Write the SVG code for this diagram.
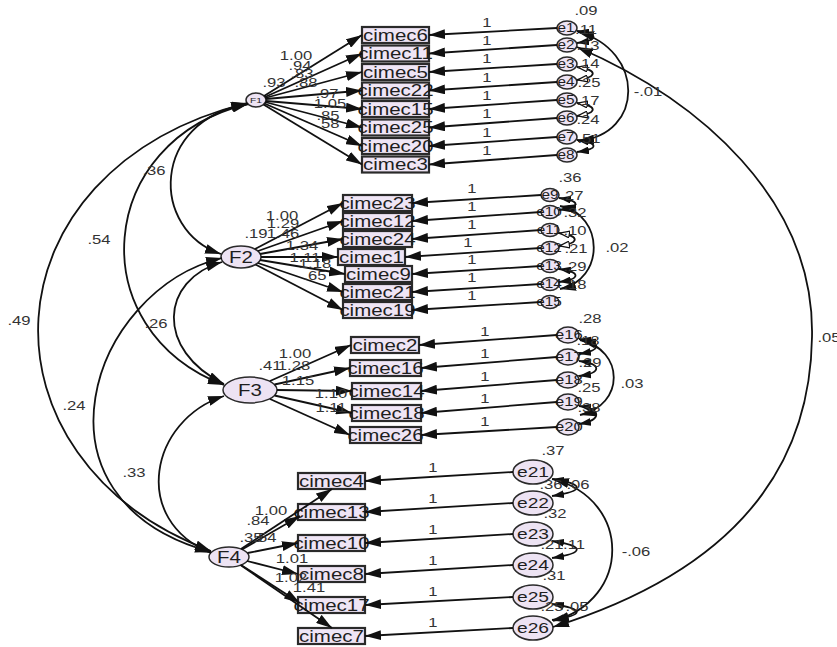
<svg xmlns="http://www.w3.org/2000/svg" width="837" height="647" viewBox="0 0 837 647">
<style>
.ln{fill:none;stroke:#111;stroke-width:1.8}
.bx{fill:#efe5f5;stroke:#2a2a2a;stroke-width:2.2}
.el{fill:#ede3f3;stroke:#2a2a2a;stroke-width:1.5}
text{font-family:"Liberation Sans",Arial,sans-serif;fill:#1e1e1e;text-anchor:middle;transform-box:fill-box;transform-origin:center;transform:scale(1.28,1)}
.n{font-size:13px;fill:#333}
.b{font-size:16px}
.e{font-size:12px}
.f{font-size:16px}
</style>
<defs>
<marker id="ah" viewBox="0 0 16 10" refX="16" refY="5" markerWidth="16" markerHeight="10" markerUnits="userSpaceOnUse" orient="auto-start-reverse"><path d="M0,0 L16,5 L0,10 z" fill="#111"/></marker>
<marker id="as" viewBox="0 0 12 8" refX="12" refY="4" markerWidth="12" markerHeight="8" markerUnits="userSpaceOnUse" orient="auto-start-reverse"><path d="M0,0 L12,4 L0,8 z" fill="#111"/></marker>
<marker id="ao" viewBox="0 0 11 8" refX="11" refY="4" markerWidth="11" markerHeight="8" markerUnits="userSpaceOnUse" orient="auto-start-reverse"><path d="M0.6,0.6 L10.4,4 L0.6,7.4 z" fill="#fff" stroke="#111" stroke-width="1.2"/></marker>
</defs>
<rect width="837" height="647" fill="#fff"/>

<!-- latent factors -->
<g id="F1"><ellipse class="el" cx="256" cy="100" rx="10" ry="7"/><text x="256" y="103" style="font-size:8px">F1</text></g>
<g id="F2"><ellipse class="el" cx="241" cy="257" rx="20" ry="11"/><text class="f" x="241" y="263">F2</text></g>
<g id="F3"><ellipse class="el" cx="250" cy="390" rx="27" ry="13"/><text class="f" x="250" y="396">F3</text></g>
<g id="F4"><ellipse class="el" cx="229" cy="557" rx="20" ry="10"/><text class="f" x="229" y="563">F4</text></g>

<!-- observed items, factor 1 -->
<g id="cimec6"><rect class="bx" x="362" y="27" width="67" height="16"/><text class="b" x="395.5" y="40.7">cimec6</text></g>
<g id="cimec11"><rect class="bx" x="362" y="45.5" width="67" height="16"/><text class="b" x="395.5" y="59.2">cimec11</text></g>
<g id="cimec5"><rect class="bx" x="362" y="64" width="67" height="16"/><text class="b" x="395.5" y="77.7">cimec5</text></g>
<g id="cimec22"><rect class="bx" x="362" y="82.5" width="67" height="16"/><text class="b" x="395.5" y="96.2">cimec22</text></g>
<g id="cimec15"><rect class="bx" x="362" y="101" width="67" height="16"/><text class="b" x="395.5" y="114.7">cimec15</text></g>
<g id="cimec25"><rect class="bx" x="362" y="119.5" width="67" height="16"/><text class="b" x="395.5" y="133.2">cimec25</text></g>
<g id="cimec20"><rect class="bx" x="362" y="138" width="67" height="16"/><text class="b" x="395.5" y="151.7">cimec20</text></g>
<g id="cimec3"><rect class="bx" x="362" y="156.5" width="67" height="16"/><text class="b" x="395.5" y="170.2">cimec3</text></g>

<!-- observed items, factor 2 -->
<g id="cimec23"><rect class="bx" x="343" y="195" width="69" height="16"/><text class="b" x="377.5" y="208.7">cimec23</text></g>
<g id="cimec12"><rect class="bx" x="343" y="213" width="69" height="16"/><text class="b" x="377.5" y="226.7">cimec12</text></g>
<g id="cimec24"><rect class="bx" x="343" y="231" width="69" height="16"/><text class="b" x="377.5" y="244.7">cimec24</text></g>
<g id="cimec1"><rect class="bx" x="338" y="249" width="67" height="16"/><text class="b" x="371.5" y="262.7">cimec1</text></g>
<g id="cimec9"><rect class="bx" x="345" y="266" width="67" height="16"/><text class="b" x="378.5" y="279.7">cimec9</text></g>
<g id="cimec21"><rect class="bx" x="343" y="284" width="69" height="16"/><text class="b" x="377.5" y="297.7">cimec21</text></g>
<g id="cimec19"><rect class="bx" x="343" y="302" width="69" height="16"/><text class="b" x="377.5" y="315.7">cimec19</text></g>

<!-- observed items, factor 3 -->
<g id="cimec2"><rect class="bx" x="351" y="337" width="68" height="16"/><text class="b" x="385" y="350.7">cimec2</text></g>
<g id="cimec16"><rect class="bx" x="350" y="360" width="71" height="16"/><text class="b" x="385.5" y="373.7">cimec16</text></g>
<g id="cimec14"><rect class="bx" x="352" y="383" width="69" height="16"/><text class="b" x="386.5" y="396.7">cimec14</text></g>
<g id="cimec18"><rect class="bx" x="352" y="405" width="69" height="16"/><text class="b" x="386.5" y="418.7">cimec18</text></g>
<g id="cimec26"><rect class="bx" x="350" y="427" width="71" height="16"/><text class="b" x="385.5" y="440.7">cimec26</text></g>

<!-- observed items, factor 4 -->
<g id="cimec4"><rect class="bx" x="298" y="473" width="67" height="16"/><text class="b" x="331.5" y="486.7">cimec4</text></g>
<g id="cimec13"><rect class="bx" x="298" y="504" width="67" height="16"/><text class="b" x="331.5" y="517.7">cimec13</text></g>
<g id="cimec10"><rect class="bx" x="298" y="535" width="67" height="16"/><text class="b" x="331.5" y="548.7">cimec10</text></g>
<g id="cimec8"><rect class="bx" x="298" y="566" width="67" height="16"/><text class="b" x="331.5" y="579.7">cimec8</text></g>
<g id="cimec17"><rect class="bx" x="298" y="597" width="67" height="16"/><text class="b" x="331.5" y="610.7">cimec17</text></g>
<g id="cimec7"><rect class="bx" x="298" y="628" width="67" height="16"/><text class="b" x="331.5" y="641.7">cimec7</text></g>

<!-- error terms -->
<g id="e1"><ellipse class="el" cx="567" cy="28" rx="10" ry="7"/><text class="e" x="566" y="32">e1</text></g>
<g id="e2"><ellipse class="el" cx="567" cy="45" rx="10" ry="7"/><text class="e" x="566" y="49">e2</text></g>
<g id="e3"><ellipse class="el" cx="567" cy="64" rx="10" ry="7"/><text class="e" x="566" y="68">e3</text></g>
<g id="e4"><ellipse class="el" cx="567" cy="82" rx="10" ry="7"/><text class="e" x="566" y="86">e4</text></g>
<g id="e5"><ellipse class="el" cx="567" cy="100" rx="10" ry="7"/><text class="e" x="566" y="104">e5</text></g>
<g id="e6"><ellipse class="el" cx="567" cy="118" rx="10" ry="7"/><text class="e" x="566" y="122">e6</text></g>
<g id="e7"><ellipse class="el" cx="567" cy="137" rx="10" ry="7"/><text class="e" x="566" y="141">e7</text></g>
<g id="e8"><ellipse class="el" cx="567" cy="155" rx="10" ry="7"/><text class="e" x="566" y="159">e8</text></g>
<g id="e9"><ellipse class="el" cx="550" cy="195" rx="9" ry="6.5"/><text class="e" x="550" y="199">e9</text></g>
<g id="e10"><ellipse class="el" cx="550" cy="212" rx="9" ry="6.5"/><text class="e" x="549" y="216">e10</text></g>
<g id="e11"><ellipse class="el" cx="550" cy="230" rx="9" ry="6.5"/><text class="e" x="549" y="234">e11</text></g>
<g id="e12"><ellipse class="el" cx="550" cy="248" rx="9" ry="6.5"/><text class="e" x="549" y="252">e12</text></g>
<g id="e13"><ellipse class="el" cx="550" cy="266" rx="9" ry="6.5"/><text class="e" x="549" y="270">e13</text></g>
<g id="e14"><ellipse class="el" cx="550" cy="284" rx="9" ry="6.5"/><text class="e" x="549" y="288">e14</text></g>
<g id="e15"><ellipse class="el" cx="550" cy="302" rx="9" ry="6.5"/><text class="e" x="549" y="306">e15</text></g>
<g id="e16"><ellipse class="el" cx="568" cy="335" rx="11" ry="8"/><text class="e" x="569" y="339.5" style="font-size:13px">e16</text></g>
<g id="e17"><ellipse class="el" cx="568" cy="357" rx="11" ry="8"/><text class="e" x="569" y="361.5" style="font-size:13px">e17</text></g>
<g id="e18"><ellipse class="el" cx="568" cy="380" rx="11" ry="8"/><text class="e" x="569" y="384.5" style="font-size:13px">e18</text></g>
<g id="e19"><ellipse class="el" cx="568" cy="402" rx="11" ry="8"/><text class="e" x="569" y="406.5" style="font-size:13px">e19</text></g>
<g id="e20"><ellipse class="el" cx="568" cy="427" rx="11" ry="8"/><text class="e" x="569" y="431.5" style="font-size:13px">e20</text></g>
<g id="e21"><ellipse class="el" cx="533" cy="472" rx="20" ry="12"/><text x="533" y="477.5" style="font-size:15px">e21</text></g>
<g id="e22"><ellipse class="el" cx="533" cy="503" rx="20" ry="12"/><text x="533" y="508.5" style="font-size:15px">e22</text></g>
<g id="e23"><ellipse class="el" cx="533" cy="534" rx="20" ry="12"/><text x="533" y="539.5" style="font-size:15px">e23</text></g>
<g id="e24"><ellipse class="el" cx="533" cy="565" rx="20" ry="12"/><text x="533" y="570.5" style="font-size:15px">e24</text></g>
<g id="e25"><ellipse class="el" cx="533" cy="597" rx="20" ry="12"/><text x="533" y="602.5" style="font-size:15px">e25</text></g>
<g id="e26"><ellipse class="el" cx="533" cy="628" rx="20" ry="12"/><text x="533" y="633.5" style="font-size:15px">e26</text></g>

<g id="connectors">
<!-- factor covariances -->
<g class="ln" marker-start="url(#ah)" marker-end="url(#ah)">
<path d="M248,104 C150,120 150,230 221,254"/>
<path d="M248,104 C95,140 80,330 224,385"/>
<path d="M247,103 C-20,170 -30,460 211,551"/>
<path d="M222,262 C160,280 155,350 224,384"/>
<path d="M222,258 C90,290 20,500 211,552"/>
<path d="M224,396 C150,420 130,520 211,553"/>
</g>
<!-- loadings -->
<g class="ln" marker-end="url(#ah)">
<path d="M264,96 L362,35"/><path d="M265,97 L362,53.5"/><path d="M265,98 L362,72"/><path d="M266,99 L362,90.5"/>
<path d="M266,101 L362,109"/><path d="M265,102 L362,127.5"/><path d="M264.5,103.5 L362,146"/><path d="M263.5,104.5 L362,164.5"/>
<path d="M255,249 L343,203"/><path d="M258,251 L343,221"/><path d="M260,254 L343,239"/><path d="M261,257 L338,257"/>
<path d="M260,260 L345,274"/><path d="M258,263 L343,292"/><path d="M255.5,264.5 L343,310"/>
<path d="M270,381 L351,345"/><path d="M274.5,384.5 L350,368"/><path d="M277,390 L352,391"/><path d="M274.5,395.5 L352,413"/><path d="M270,399 L350,435"/>
<path d="M241,549 L332,489"/><path d="M242,549.5 L300,516"/><path d="M247.5,553 L298,543"/><path d="M247,561 L298,574"/>
<path d="M241,565 L300,603"/><path d="M240.5,565 L332,628"/>
</g>
<!-- error paths -->
<g class="ln" marker-end="url(#ah)">
<path d="M557,28 L429,35"/><path d="M557,45 L429,53.5"/><path d="M557,64 L429,72"/><path d="M557,82 L429,90.5"/>
<path d="M557,100 L429,109"/><path d="M557,118 L429,127.5"/><path d="M557,137 L429,146"/><path d="M557,155 L429,164.5"/>
<path d="M541,195 L412,203"/><path d="M541,212 L412,221"/><path d="M541,230 L412,239"/><path d="M541,248 L405,257"/>
<path d="M541,266 L412,274"/><path d="M541,284 L412,292"/><path d="M541,302 L412,310"/>
<path d="M557,335 L419,345"/><path d="M557,357 L421,368"/><path d="M557,380 L421,391"/><path d="M557,402 L421,413"/><path d="M557,427 L421,435"/>
<path d="M513,472 L365,481"/><path d="M513,503 L365,512"/><path d="M513,534 L365,543"/><path d="M513,565 L365,574"/><path d="M513,597 L365,605"/><path d="M513,628 L365,636"/>
</g>
<!-- error covariances -->
<g class="ln" marker-start="url(#ah)" marker-end="url(#ah)">
<path d="M578,32 C645,50 645,135 578,141"/>
<path d="M577,47 C700,100 815,200 812,337 C810,480 720,575 553,627"/>
<path d="M560,206 C605,215 605,280 560,289"/>
<path d="M580,340 C625,350 625,405 580,415"/>
<path d="M553,479 C632,500 632,600 553,621"/>
</g>
<g class="ln" stroke-width="1.3" marker-start="url(#as)" marker-end="url(#as)">
<path d="M577,31 C599,34 599,40 577,43"/>
<path d="M577,140 C599,143 599,149 577,152"/>
<path d="M559,198 C581,201 581,207 559,210"/>
<path d="M559,269 C581,272 581,279 559,282"/>
<path d="M579,339 C602,342 602,350 579,354"/>
<path d="M579,361 C602,364 602,373 579,376"/>
<path d="M579,406 C602,409 602,420 579,424"/>
<path d="M552,479 C585,484 585,491 552,496"/>
<path d="M552,541 C585,546 585,553 552,558"/>
<path d="M552,604 C585,609 585,615 552,620"/>
</g>
<g class="ln" stroke-width="1.2" marker-start="url(#ao)" marker-end="url(#ao)">
<path d="M577,67 C598,70 598,77 577,80"/>
<path d="M577,103 C598,106 598,113 577,116"/>
<path d="M559,233 C580,236 580,243 559,246"/>
</g>
</g>

<g id="labels" class="n">
<!-- factor covariances -->
<text class="n" x="154" y="175">.36</text>
<text class="n" x="99" y="244">.54</text>
<text class="n" x="19" y="325">.49</text>
<text class="n" x="156" y="328">.26</text>
<text class="n" x="74" y="410">.24</text>
<text class="n" x="134" y="477">.33</text>
<!-- factor 1 -->
<text class="n" x="274" y="87">.93</text>
<text class="n" x="296" y="60">1.00</text>
<text class="n" x="300" y="70">.94</text>
<text class="n" x="302" y="78">.83</text>
<text class="n" x="306" y="87">.88</text>
<text class="n" x="327" y="98">.97</text>
<text class="n" x="330" y="108">1.05</text>
<text class="n" x="328" y="120">.85</text>
<text class="n" x="328" y="128">.58</text>
<!-- factor 2 -->
<text class="n" x="282" y="220">1.00</text>
<text class="n" x="283" y="228">1.29</text>
<text class="n" x="256" y="238">.19</text>
<text class="n" x="283" y="238">1.46</text>
<text class="n" x="302" y="250">1.34</text>
<text class="n" x="305" y="262">1.11</text>
<text class="n" x="315" y="268">1.18</text>
<text class="n" x="315" y="280">.65</text>
<!-- factor 3 -->
<text class="n" x="295" y="358">1.00</text>
<text class="n" x="270" y="370">.41</text>
<text class="n" x="294" y="370">1.28</text>
<text class="n" x="298" y="385">1.15</text>
<text class="n" x="331" y="398">1.10</text>
<text class="n" x="331" y="412">1.11</text>
<!-- factor 4 -->
<text class="n" x="271" y="515">1.00</text>
<text class="n" x="258" y="525">.84</text>
<text class="n" x="251" y="542">.35</text>
<text class="n" x="265" y="542">.54</text>
<text class="n" x="292" y="563">1.01</text>
<text class="n" x="291" y="582">1.02</text>
<text class="n" x="309" y="592">1.41</text>
<!-- unit weights -->
<text class="n" x="487" y="27">1</text><text class="n" x="487" y="45">1</text><text class="n" x="487" y="63">1</text><text class="n" x="487" y="82">1</text>
<text class="n" x="487" y="100">1</text><text class="n" x="487" y="118">1</text><text class="n" x="487" y="137">1</text><text class="n" x="487" y="155">1</text>
<text class="n" x="472" y="193">1</text><text class="n" x="472" y="211">1</text><text class="n" x="472" y="229">1</text><text class="n" x="468" y="247">1</text>
<text class="n" x="472" y="264">1</text><text class="n" x="472" y="282">1</text><text class="n" x="472" y="300">1</text>
<text class="n" x="485" y="336">1</text><text class="n" x="485" y="358">1</text><text class="n" x="485" y="381">1</text><text class="n" x="485" y="403">1</text><text class="n" x="485" y="426">1</text>
<text class="n" x="433" y="472">1</text><text class="n" x="433" y="503">1</text><text class="n" x="433" y="534">1</text><text class="n" x="433" y="565">1</text><text class="n" x="433" y="596">1</text><text class="n" x="433" y="627">1</text>
<!-- error variances -->
<text class="n" x="586" y="15">.09</text>
<text class="n" x="586" y="34">.11</text>
<text class="n" x="588" y="50">.13</text>
<text class="n" x="588" y="68">.14</text>
<text class="n" x="589" y="87">.25</text>
<text class="n" x="588" y="105">.17</text>
<text class="n" x="588" y="124">.24</text>
<text class="n" x="589" y="143">.51</text>
<text class="n" x="570" y="182">.36</text>
<text class="n" x="572" y="200">.27</text>
<text class="n" x="575" y="217">.32</text>
<text class="n" x="575" y="235">.10</text>
<text class="n" x="576" y="253">.21</text>
<text class="n" x="575" y="271">.29</text>
<text class="n" x="575" y="289">.18</text>
<text class="n" x="590" y="323">.28</text>
<text class="n" x="588" y="345">.18</text>
<text class="n" x="590" y="367">.29</text>
<text class="n" x="589" y="392">.25</text>
<text class="n" x="589" y="412">.38</text>
<text class="n" x="553" y="455">.37</text>
<text class="n" x="551" y="489">.36</text>
<text class="n" x="578" y="489">.06</text>
<text class="n" x="555" y="518">.32</text>
<text class="n" x="552" y="549">.21</text>
<text class="n" x="574" y="549">.11</text>
<text class="n" x="554" y="580">.31</text>
<text class="n" x="552" y="611">.25</text>
<text class="n" x="577" y="611">.05</text>
<!-- error covariances -->
<text class="n" x="648" y="96">-.01</text>
<text class="n" x="617" y="252">.02</text>
<text class="n" x="632" y="388">.03</text>
<text class="n" x="829" y="342">.05</text>
<text class="n" x="636" y="556">-.06</text>
</g>
</svg>
